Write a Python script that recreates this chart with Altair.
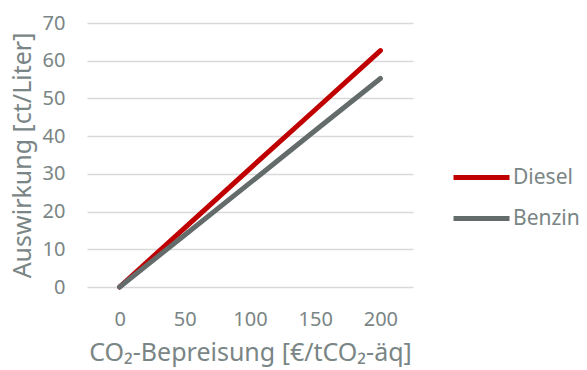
import altair as alt
import pandas as pd

preise = [0, 50, 100, 150, 200]
diesel = [0, 15.7, 31.4, 47.0, 62.7]
benzin = [0, 13.8, 27.6, 41.5, 55.3]
serien = ["Diesel", "Benzin"]
farben = ["#C00000", "#646B6B"]

rows = []
for p, d, b in zip(preise, diesel, benzin):
    rows.append({"Preis": p, "Wert": d, "Kraftstoff": "Diesel"})
    rows.append({"Preis": p, "Wert": b, "Kraftstoff": "Benzin"})
df = pd.DataFrame(rows)

FONT = "Noto Sans"
TXT = "#7A8585"

chart = alt.Chart(df).mark_line(strokeWidth=5, strokeCap="round").encode(
    x=alt.X("Preis:O", sort=preise,
            scale=alt.Scale(type="point", padding=0.5),
            axis=alt.Axis(title="CO₂-Bepreisung [€/tCO₂-äq]", labelAngle=0,
                          ticks=False, domain=False, grid=False,
                          labelPadding=22, titlePadding=11, titleFontSize=25)),
    y=alt.Y("Wert:Q", scale=alt.Scale(domain=[0, 70], nice=False),
            axis=alt.Axis(title="Auswirkung [ct/Liter]", values=[0, 10, 20, 30, 40, 50, 60, 70],
                          ticks=False, domain=False, gridColor="#D9D9D9", gridWidth=1.5,
                          labelPadding=22, titlePadding=7, titleFontSize=25)),
    color=alt.Color("Kraftstoff:N", sort=serien,
                    scale=alt.Scale(domain=serien, range=farben),
                    legend=alt.Legend(title=None, orient="none", legendX=364, legendY=124,
                                      symbolType="stroke", symbolSize=3136, symbolStrokeWidth=5,
                                      rowPadding=-10, labelOffset=1)),
).properties(
    width=326, height=264,
    autosize=alt.AutoSizeParams(type="none"),
    padding={"left": 87, "top": 23, "right": 174, "bottom": 83},
).configure_axis(
    labelFont=FONT, titleFont=FONT, labelFontSize=20,
    labelColor=TXT, titleColor=TXT, titleFontWeight="normal",
).configure_legend(
    labelFont=FONT, labelFontSize=21, labelColor=TXT,
).configure_view(stroke=None)

chart.save("out.html", embed_options={"renderer": "svg", "actions": False})
